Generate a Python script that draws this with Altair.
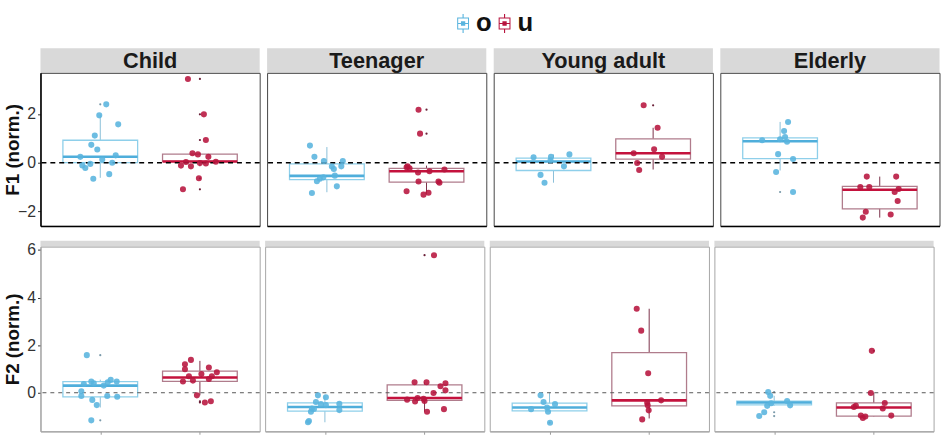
import altair as alt
import pandas as pd

AGES = ["Child", "Teenager", "Young adult", "Elderly"]
GROUPS = ["o", "u"]
ROWS = ["F1", "F2"]
ROW_TITLES = ["F1 (norm.)", "F2 (norm.)"]

# ---------------- F1 ----------------
F1_CHILD_O = [2.39, 1.94, 1.57, 1.11, 0.73, 0.54, 0.24, 0.30, 0.13, 0.00, -0.11, -0.22, -0.05, -0.47, -0.66]
F1_CHILD_O_DX = [0.06, -0.01, 0.18, -0.055, -0.09, -0.03, -0.20, 0.155, 0.02, 0.12, -0.18, -0.15, -0.10, 0.09, -0.07]
F1_CHILD_O_BOX = [-0.62, 0.00, 0.24, 0.92, 1.97]
F1_CHILD_O_OUT = [2.39]
F1_CHILD_U = [3.43, 1.98, 0.93, 0.39, 0.34, 0.24, 0.03, -0.15, -0.01, -0.03, 0.04, -0.64, -1.09, -0.12]
F1_CHILD_U_DX = [-0.12, 0.04, 0.06, -0.075, -0.02, 0.085, -0.14, -0.09, 0.0, 0.06, 0.16, -0.01, -0.17, -0.19]
F1_CHILD_U_BOX = [-0.15, 0.05, 0.05, 0.35, 0.39]
F1_CHILD_U_OUT = [3.43, 1.98, 0.93, -0.64, -1.09]

F1_TEEN_O = [0.70, 0.24, 0.07, 0.07, -0.15, -0.16, -0.26, -0.53, -0.60, -0.66, -0.76, -0.97, -1.24]
F1_TEEN_O_DX = [-0.17, -0.125, -0.03, 0.16, 0.145, 0.05, 0.07, 0.08, -0.035, -0.07, -0.10, 0.10, -0.15]
F1_TEEN_O_BOX = [-1.21, -0.69, -0.54, -0.05, 0.64]
F1_TEEN_O_OUT = []
F1_TEEN_U = [2.17, 1.19, -0.15, -0.23, -0.19, -0.35, -0.28, -0.40, -0.77, -0.77, -0.82, -1.17, -1.31, -1.23]
F1_TEEN_U_DX = [-0.08, -0.065, -0.19, -0.17, -0.20, 0.03, 0.18, -0.085, -0.08, 0.12, 0.13, -0.20, -0.03, 0.02]
F1_TEEN_U_BOX = [-1.27, -0.80, -0.35, -0.23, -0.12]
F1_TEEN_U_OUT = [2.17, 1.19]

F1_YA_O = [0.22, 0.24, 0.09, 0.34, -0.15, -0.50, -0.82]
F1_YA_O_DX = [-0.20, -0.025, -0.03, 0.16, 0.105, -0.13, -0.09]
F1_YA_O_BOX = [-0.82, -0.32, 0.05, 0.19, 0.34]
F1_YA_O_OUT = []
F1_YA_U = [2.35, 1.43, 0.55, 0.39, 0.24, -0.01, -0.30]
F1_YA_U_DX = [-0.095, 0.045, 0.01, -0.195, 0.09, -0.16, -0.14]
F1_YA_U_BOX = [-0.28, 0.15, 0.39, 0.98, 1.43]
F1_YA_U_OUT = [2.35]

F1_ELD_O = [1.67, 1.30, 1.05, 0.96, 0.92, 0.86, 0.35, 0.15, -0.38, -1.20]
F1_ELD_O_DX = [0.08, 0.04, 0.05, 0.0, -0.18, 0.07, -0.02, 0.13, -0.04, 0.13]
F1_ELD_O_BOX = [-0.32, 0.17, 0.88, 1.02, 1.67]
F1_ELD_O_OUT = [-1.20]
F1_ELD_U = [-0.57, -0.57, -1.00, -1.00, -1.08, -1.20, -1.57, -2.01, -2.12, -2.25]
F1_ELD_U_DX = [-0.13, 0.165, -0.195, -0.105, 0.19, 0.15, 0.18, -0.14, 0.11, -0.17]
F1_ELD_U_BOX = [-2.25, -1.89, -1.11, -0.97, -0.57]
F1_ELD_U_OUT = []

# ---------------- F2 ----------------
F2_CHILD_O = [1.58, -1.16, 0.37, 0.47, 0.40, 0.30, 0.44, 0.54, 0.47, 0.06, -0.14, -0.30, -0.52, -0.14, -0.17]
F2_CHILD_O_DX = [-0.135, -0.09, -0.165, -0.09, -0.065, 0.035, 0.075, 0.105, 0.165, -0.19, -0.19, -0.08, -0.035, 0.07, 0.17]
F2_CHILD_O_BOX = [-0.62, -0.17, 0.30, 0.47, 0.55]
F2_CHILD_O_OUT = [1.58, -1.16]
F2_CHILD_U = [1.38, 1.20, 0.99, 1.06, 0.79, 0.86, 0.69, 0.69, 0.47, 0.51, 0.58, -0.11, -0.41, -0.36]
F2_CHILD_U_DX = [-0.09, -0.15, -0.15, 0.09, 0.015, 0.17, 0.12, -0.11, -0.17, -0.07, 0.09, -0.03, 0.05, 0.11]
F2_CHILD_U_BOX = [-0.11, 0.48, 0.64, 0.91, 1.34]
F2_CHILD_U_OUT = [-0.41, -0.36]

F2_TEEN_O = [-0.11, -0.19, -0.39, -0.48, -0.52, -0.46, -0.73, -0.66, -0.80, -1.19, -1.24, -0.68]
F2_TEEN_O_DX = [-0.07, 0.01, -0.09, -0.04, 0.01, 0.145, 0.145, -0.13, -0.14, -0.16, -0.17, -0.11]
F2_TEEN_O_BOX = [-1.24, -0.77, -0.60, -0.43, -0.11]
F2_TEEN_O_OUT = []
F2_TEEN_U = [5.78, 0.44, 0.44, 0.40, 0.27, 0.10, -0.01, -0.29, -0.37, -0.22, -0.35, -0.25, -0.80, -0.69]
F2_TEEN_U_DX = [0.095, -0.10, 0.02, 0.21, 0.16, 0.21, 0.09, -0.175, -0.095, -0.07, 0.0, -0.01, 0.025, 0.195]
F2_TEEN_U_BOX = [-0.80, -0.32, -0.22, 0.33, 0.44]
F2_TEEN_U_OUT = [5.78]

F2_YA_O = [-0.11, -0.39, -0.48, -0.69, -0.62, -0.80, -1.26]
F2_YA_O_DX = [-0.09, -0.06, 0.055, -0.185, -0.025, -0.015, 0.005]
F2_YA_O_BOX = [-0.80, -0.76, -0.62, -0.44, 0.0]
F2_YA_O_OUT = [-1.26]
F2_YA_U = [3.53, 2.61, 0.82, -0.32, -0.42, -0.53, -0.74, -1.12]
F2_YA_U_DX = [-0.125, -0.08, -0.01, 0.12, -0.02, -0.015, -0.005, -0.07]
F2_YA_U_BOX = [-1.08, -0.55, -0.32, 1.69, 3.53]
F2_YA_U_OUT = []

F2_ELD_O = [0.03, -0.13, -0.44, -0.35, -0.53, -0.55, -0.82, -0.98]
F2_ELD_O_DX = [-0.06, -0.04, -0.03, 0.13, 0.16, -0.07, -0.10, -0.15]
F2_ELD_O_BOX = [-0.55, -0.51, -0.41, -0.35, -0.13]
F2_ELD_O_OUT = [0.03, -0.82, -0.98]
F2_ELD_U = [1.76, -0.01, -0.55, -0.60, -0.43, -0.66, -0.96, -0.96, -1.06, -1.00]
F2_ELD_U_DX = [-0.02, -0.03, -0.18, -0.20, 0.11, 0.09, 0.175, -0.13, -0.11, -0.085]
F2_ELD_U_BOX = [-1.00, -0.98, -0.62, -0.43, 0.0]
F2_ELD_U_OUT = [1.76]

Y_DOMAINS = {"F1": [-2.59, 3.68], "F2": [-1.62, 6.14]}
Y_TICKS = {"F1": [-2, 0, 2], "F2": [0, 2, 4, 6]}

DATA = {
    ("F1", "Child", "o"): (F1_CHILD_O, F1_CHILD_O_DX, F1_CHILD_O_BOX, F1_CHILD_O_OUT),
    ("F1", "Child", "u"): (F1_CHILD_U, F1_CHILD_U_DX, F1_CHILD_U_BOX, F1_CHILD_U_OUT),
    ("F1", "Teenager", "o"): (F1_TEEN_O, F1_TEEN_O_DX, F1_TEEN_O_BOX, F1_TEEN_O_OUT),
    ("F1", "Teenager", "u"): (F1_TEEN_U, F1_TEEN_U_DX, F1_TEEN_U_BOX, F1_TEEN_U_OUT),
    ("F1", "Young adult", "o"): (F1_YA_O, F1_YA_O_DX, F1_YA_O_BOX, F1_YA_O_OUT),
    ("F1", "Young adult", "u"): (F1_YA_U, F1_YA_U_DX, F1_YA_U_BOX, F1_YA_U_OUT),
    ("F1", "Elderly", "o"): (F1_ELD_O, F1_ELD_O_DX, F1_ELD_O_BOX, F1_ELD_O_OUT),
    ("F1", "Elderly", "u"): (F1_ELD_U, F1_ELD_U_DX, F1_ELD_U_BOX, F1_ELD_U_OUT),
    ("F2", "Child", "o"): (F2_CHILD_O, F2_CHILD_O_DX, F2_CHILD_O_BOX, F2_CHILD_O_OUT),
    ("F2", "Child", "u"): (F2_CHILD_U, F2_CHILD_U_DX, F2_CHILD_U_BOX, F2_CHILD_U_OUT),
    ("F2", "Teenager", "o"): (F2_TEEN_O, F2_TEEN_O_DX, F2_TEEN_O_BOX, F2_TEEN_O_OUT),
    ("F2", "Teenager", "u"): (F2_TEEN_U, F2_TEEN_U_DX, F2_TEEN_U_BOX, F2_TEEN_U_OUT),
    ("F2", "Young adult", "o"): (F2_YA_O, F2_YA_O_DX, F2_YA_O_BOX, F2_YA_O_OUT),
    ("F2", "Young adult", "u"): (F2_YA_U, F2_YA_U_DX, F2_YA_U_BOX, F2_YA_U_OUT),
    ("F2", "Elderly", "o"): (F2_ELD_O, F2_ELD_O_DX, F2_ELD_O_BOX, F2_ELD_O_OUT),
    ("F2", "Elderly", "u"): (F2_ELD_U, F2_ELD_U_DX, F2_ELD_U_BOX, F2_ELD_U_OUT),
}

POINT_COL = {"o": "#59B4DE", "u": "#B7143E"}
BOX_COL = {"o": "#8ECFEA", "u": "#B07C8C"}
WHISK_COL = {"o": "#89BFD8", "u": "#7A3048"}
MED_COL = {"o": "#4FAEDB", "u": "#C4123D"}
OUT_COL = {"o": "#7A9AAA", "u": "#6B2038"}

FONT = "Liberation Sans"
BOX_HALF = 0.375

GLYPH = ("M-0.75,-0.75H0.75V0.75H-0.75Z M-0.62,-0.62V0.62H0.62V-0.62Z "
         "M-0.62,-0.07H0.62V0.07H-0.62Z M-0.07,-1.19H0.07V-0.75H-0.07Z "
         "M-0.07,0.75H0.07V1.19H-0.07Z M-0.27,-0.27H0.27V0.27H-0.27Z")

LEGEND = alt.Legend(title=None, orient="none", legendX=415, legendY=-38,
                    direction="horizontal", symbolType=GLYPH, symbolSize=256,
                    symbolStrokeWidth=0, symbolOpacity=1, labelFont=FONT,
                    labelFontSize=26, labelFontWeight="bold", labelColor="#111111",
                    labelOffset=0, columnPadding=0, padding=0)

ROW_STYLE = {
    "F1": dict(width=222, height=155, strip=25, border="#444444", domain="#000000",
               domain_w=1.5, zero_col="#000000", zero_w=1.4, zero_dash=[5, 4],
               title_pad=-5, spacing=3.5),
    "F2": dict(width=222, height=187, strip=6, border="#A6A6A6", domain="#A6A6A6",
               domain_w=1.2, zero_col="#555555", zero_w=1.0, zero_dash=[4, 4],
               title_pad=4, spacing=3.5),
}


def x_enc(field, row):
    st = ROW_STYLE[row]
    if row == "F1":
        ax = alt.Axis(labels=False, ticks=False, title=None, domainColor=st["domain"],
                      domainWidth=st["domain_w"], grid=False)
    else:
        ax = alt.Axis(labels=False, ticks=True, tickSize=3, tickColor="#999999",
                      values=[1, 2], title=None, domainColor=st["domain"],
                      domainWidth=st["domain_w"], grid=False)
    return alt.X(field, type="quantitative", scale=alt.Scale(domain=[0.4, 2.6], nice=False, zero=False), axis=ax)


def y_enc(field, row, first):
    st = ROW_STYLE[row]
    if first:
        ax = alt.Axis(title=ROW_TITLES[ROWS.index(row)], values=Y_TICKS[row], grid=False,
                      domainColor=st["domain"], domainWidth=st["domain_w"],
                      tickSize=3, tickColor="#333333", labelPadding=2,
                      titlePadding=st["title_pad"])
    else:
        ax = None
    return alt.Y(field, type="quantitative",
                 scale=alt.Scale(domain=Y_DOMAINS[row], nice=False, zero=False),
                 axis=ax)


def panel(row, age, first):
    st = ROW_STYLE[row]
    layers = []
    zero = alt.Chart(pd.DataFrame({"z": [0.0]})).mark_rule(
        color=st["zero_col"], strokeWidth=st["zero_w"], strokeDash=st["zero_dash"]
    ).encode(y=y_enc("z", row, first))
    pts_frames = []
    for gi, g in enumerate(GROUPS):
        vals, dxs, box, outs = DATA[(row, age, g)]
        pos = gi + 1
        bdf = pd.DataFrame({"pos": [pos], "left": [pos - BOX_HALF], "right": [pos + BOX_HALF],
                            "lo": [box[0]], "q1": [box[1]], "med": [box[2]],
                            "q3": [box[3]], "hi": [box[4]]})
        base = alt.Chart(bdf)
        layers.append(base.mark_rule(color=WHISK_COL[g], strokeWidth=1).encode(
            x=x_enc("pos", row), y=y_enc("lo", row, first), y2="q1:Q"))
        layers.append(base.mark_rule(color=WHISK_COL[g], strokeWidth=1).encode(
            x=x_enc("pos", row), y=y_enc("q3", row, first), y2="hi:Q"))
        layers.append(base.mark_rect(fill="white", fillOpacity=0.0, stroke=BOX_COL[g],
                                     strokeWidth=1.3).encode(
            x=x_enc("left", row), x2="right:Q", y=y_enc("q1", row, first), y2="q3:Q"))
        layers.append(base.mark_rule(color=MED_COL[g], strokeWidth=2.6).encode(
            x=x_enc("left", row), x2="right:Q", y=y_enc("med", row, first)))
        if outs:
            odf = pd.DataFrame({"pos": [pos] * len(outs), "val": outs})
            layers.append(alt.Chart(odf).mark_circle(size=5, color=OUT_COL[g], opacity=1).encode(
                x=x_enc("pos", row), y=y_enc("val", row, first)))
        pts_frames.append(pd.DataFrame({"grp": [g] * len(vals),
                                        "x": [pos + d for d in dxs], "val": vals}))
    pdf = pd.concat(pts_frames, ignore_index=True)
    pts = alt.Chart(pdf).mark_circle(size=38, opacity=0.88).encode(
        x=x_enc("x", row), y=y_enc("val", row, first),
        color=alt.Color("grp:N", scale=alt.Scale(domain=GROUPS,
                                                   range=[POINT_COL["o"], POINT_COL["u"]]),
                        legend=LEGEND))
    chart = alt.layer(*layers, zero, pts).properties(
        width=st["width"], height=st["height"],
        view=alt.ViewBackground(stroke=st["border"], strokeWidth=1, fill="white"))
    return chart


def strip(row, age):
    st = ROW_STYLE[row]
    sdf = pd.DataFrame({"age": [age]})
    bg = alt.Chart(sdf).mark_rect(color="#D9D9D9").encode(
        x=alt.value(0), x2=alt.value(st["width"]), y=alt.value(0), y2=alt.value(st["strip"]))
    parts = [bg]
    if row == "F1":
        parts.append(alt.Chart(sdf).mark_text(font=FONT, fontSize=22, fontWeight="bold",
                                              color="#1A1A1A", baseline="middle").encode(
            text="age:N", x=alt.value(st["width"] / 2), y=alt.value(st["strip"] / 2 + 1)))
    return alt.layer(*parts).properties(width=st["width"], height=st["strip"],
                                        view=alt.ViewBackground(strokeWidth=0))


rows = []
for row in ROWS:
    cols = []
    for ai, age in enumerate(AGES):
        cols.append(alt.vconcat(strip(row, age), panel(row, age, ai == 0),
                                spacing=0, bounds="flush"))
    rows.append(alt.hconcat(*cols, spacing=ROW_STYLE[row]["spacing"]))

chart = alt.concat(*rows, columns=1, align="none", spacing=14).properties(
    padding={"left": 3, "top": 8, "right": 0, "bottom": 0}
).configure_axis(
    labelFont=FONT, labelFontSize=16, labelColor="#333333",
    titleFont=FONT, titleFontSize=19, titleFontWeight="bold", titleColor="#111111"
).configure_view(stroke="#444444")

chart.save("out.html", embed_options={"renderer": "svg", "actions": False})
